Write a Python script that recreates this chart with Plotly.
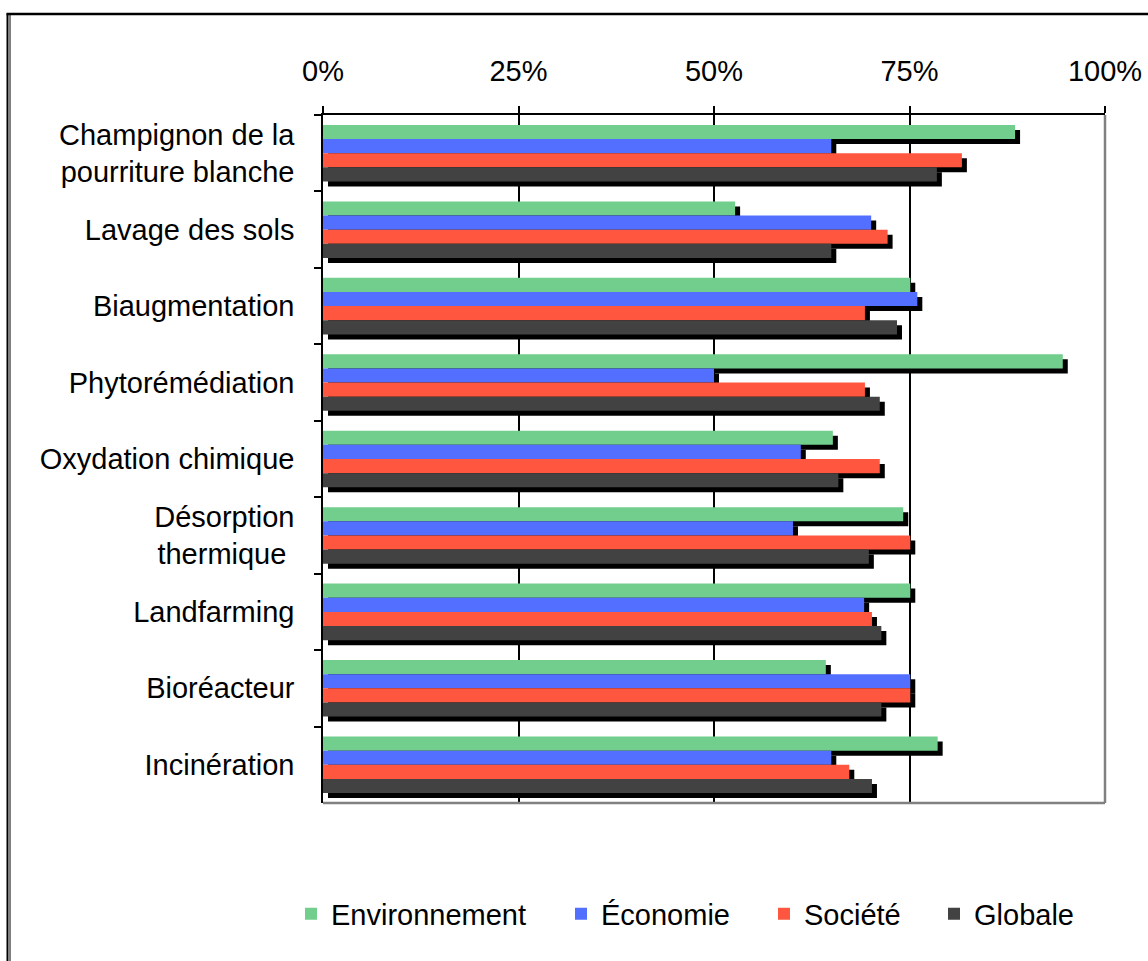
import plotly.graph_objects as go

categories = ["Champignon de la<br>pourriture blanche", "Lavage des sols", "Biaugmentation",
              "Phytorémédiation", "Oxydation chimique", "Désorption<br>thermique ",
              "Landfarming", "Bioréacteur", "Incinération"]
environnement = [0.885, 0.527, 0.751, 0.946, 0.652, 0.742, 0.751, 0.643, 0.786]
economie = [0.650, 0.701, 0.760, 0.500, 0.611, 0.601, 0.692, 0.751, 0.650]
societe = [0.817, 0.722, 0.693, 0.693, 0.712, 0.751, 0.702, 0.751, 0.673]
globale = [0.785, 0.650, 0.734, 0.712, 0.659, 0.698, 0.714, 0.714, 0.702]
series_names = ["Environnement", "Économie", "Société", "Globale"]
tick_vals = [0, 0.25, 0.5, 0.75, 1.0]
tick_text = ["0%", "25%", "50%", "75%", "100%"]

colors = ["#72CE8D", "#536FFF", "#FF573F", "#424242"]
series = [environnement, economie, societe, globale]

W, H = 1148, 961
L, R, T, B = 323, 43, 115, 158
pw = W - L - R
ph = H - T - B
n = len(categories)
sx = 5 / pw            # shadow shift in x (fraction of range)
sy = 5 / (ph / n)      # shadow shift in category units

FONT = "Liberation Sans, Arial, sans-serif"
FS = 29


def px_x(p):
    return (p - L) / pw


def px_y(p):
    return 1 + (T - p) / ph


fig = go.Figure()

# shadows on base axes
for vals in series:
    fig.add_trace(go.Bar(x=vals, y=categories, orientation="h", xaxis="x", yaxis="y",
                         marker=dict(color="#000000", line=dict(width=0)),
                         showlegend=False, hoverinfo="skip"))

# coloured bars on overlay axes, each with its own legend box
legend_ids = ["legend", "legend2", "legend3", "legend4"]
for name, vals, c, lid in zip(series_names, series, colors, legend_ids):
    fig.add_trace(go.Bar(x=vals, y=categories, orientation="h", xaxis="x2", yaxis="y2",
                         name=name, legend=lid, marker=dict(color=c, line=dict(width=0))))

marker_left_px = [305, 575, 778, 948]
legend_cfg = {}
for lid, mx in zip(legend_ids, marker_left_px):
    legend_cfg[lid] = dict(orientation="h", x=px_x(mx - 14), xanchor="left",
                           y=px_y(914), yanchor="middle", font=dict(size=FS),
                           bgcolor="rgba(0,0,0,0)", borderwidth=0)

fig.update_layout(
    width=W, height=H,
    margin=dict(l=L, r=R, t=T, b=B, pad=0, autoexpand=False),
    paper_bgcolor="white", plot_bgcolor="white",
    font=dict(family=FONT, size=FS, color="black"),
    barmode="group", bargap=0.26, bargroupgap=0,
    xaxis=dict(range=[-sx, 1 - sx], visible=False, automargin=False),
    yaxis=dict(type="category", categoryorder="array", categoryarray=categories,
               range=[n - 0.5 - sy, -0.5 - sy], visible=False, automargin=False),
    xaxis2=dict(overlaying="x", side="top", range=[0, 1], tickvals=tick_vals, ticktext=tick_text,
                showgrid=True, gridcolor="black", gridwidth=1.5, zeroline=False,
                showline=True, linecolor="black", linewidth=1.5, automargin=False,
                ticks="outside", ticklen=7, tickcolor="black", tickwidth=1.5,
                ticklabelstandoff=14, tickfont=dict(size=FS)),
    yaxis2=dict(overlaying="y", side="left", type="category", categoryorder="array",
                categoryarray=categories, range=[n - 0.5, -0.5], automargin=False,
                showline=True, linecolor="black", linewidth=1.5,
                ticks="outside", ticklen=7, tickcolor="black", tickwidth=1.5,
                tickson="boundaries", showgrid=False, ticklabelstandoff=21,
                tickfont=dict(size=FS)),
    showlegend=True,
    **legend_cfg,
)

# plot area right & bottom border (grey)
fig.add_shape(type="line", xref="paper", yref="paper", x0=1, x1=1, y0=0, y1=1,
              line=dict(color="#808080", width=2.5), layer="above")
fig.add_shape(type="line", xref="paper", yref="paper", x0=0, x1=1, y0=0, y1=0,
              line=dict(color="#808080", width=2.5), layer="above")

# outer chart frame (double line on the left, line on top)
fig.add_shape(type="line", xref="paper", yref="paper", x0=px_x(7.5), x1=px_x(7.5),
              y0=px_y(13.5), y1=px_y(980), line=dict(color="black", width=2))
fig.add_shape(type="line", xref="paper", yref="paper", x0=px_x(10), x1=px_x(10),
              y0=px_y(15), y1=px_y(980), line=dict(color="black", width=1))
fig.add_shape(type="line", xref="paper", yref="paper", x0=px_x(6.5), x1=px_x(1170),
              y0=px_y(14), y1=px_y(14), line=dict(color="black", width=2.5))

fig.write_html("out.html", config={"displayModeBar": False},
               post_script="document.body.style.margin='0';document.body.style.overflow='hidden';")
